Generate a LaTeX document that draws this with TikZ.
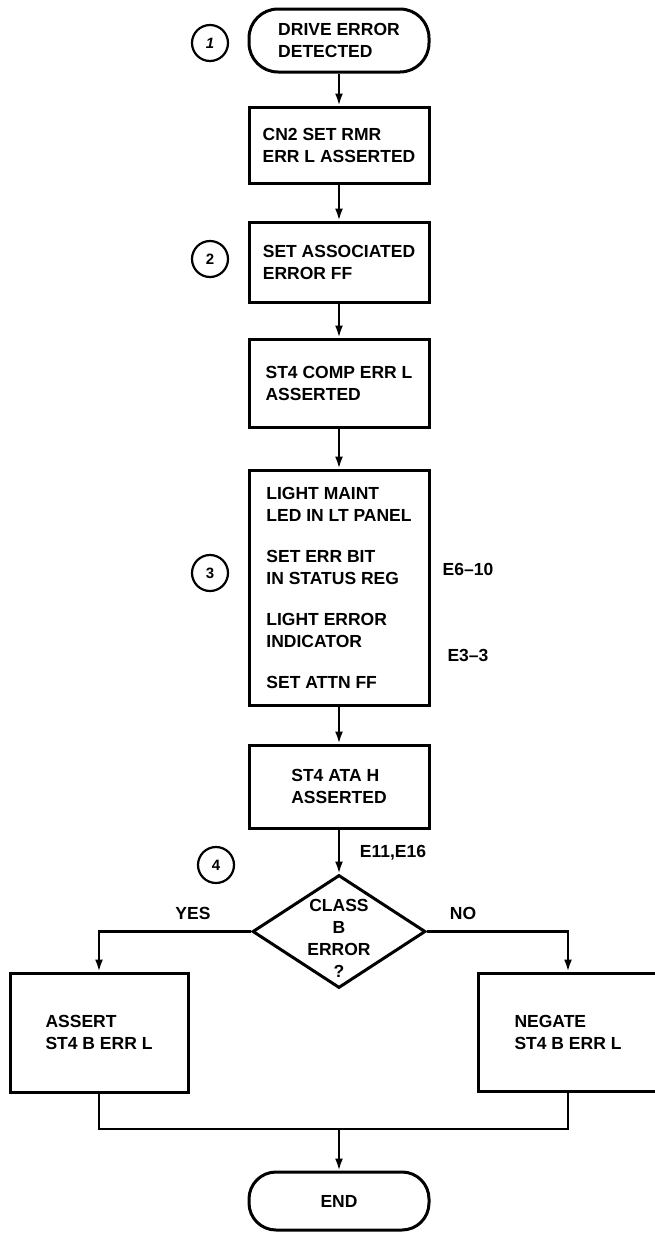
\documentclass[tikz,border=0pt]{standalone}
\usepackage{fontspec}
\setmainfont{Liberation Sans}
\usetikzlibrary{arrows.meta, shapes.geometric}

\begin{document}
\begin{tikzpicture}[
        x=1pt, y=-1pt,
        >={Latex[length=12pt,width=8pt]},
        line width=2.1pt,
        every node/.style={font=\fontsize{17.5}{22}\bfseries},
        stepbox/.style={draw, rectangle, line width=3pt, align=left, minimum width=180pt, inner sep=0pt},
        terminal/.style={draw, rectangle, rounded corners=29pt, line width=3pt, align=left, minimum width=180pt, inner sep=0pt},
        decision/.style={draw, diamond, line width=3pt, minimum width=173pt, minimum height=113pt, inner sep=0pt},
        marker/.style={draw, circle, line width=2.2pt, minimum size=36pt, inner sep=0pt, font=\fontsize{15}{17}\bfseries},
        ref/.style={inner sep=0pt},
    ]
        \useasboundingbox (0,0) rectangle (655,1235);

        % Main column
        \node[terminal, minimum height=63pt] (start) at (339,40.5) {DRIVE ERROR\\DETECTED};
        \node[stepbox, minimum height=76pt] (rmr) at (339,145) {CN2 SET RMR\\ERR L ASSERTED};
        \node[stepbox, minimum height=80pt] (assoc) at (339,262) {SET ASSOCIATED\\ERROR FF};
        \node[stepbox, minimum height=88pt] (comp) at (339,383) {ST4 COMP ERR L\\ASSERTED};
        \node[stepbox, minimum height=235pt] (maint) at (339,587.5)
            {LIGHT MAINT\\LED IN LT PANEL\\[19pt]SET ERR BIT\\IN STATUS REG\\[19pt]LIGHT ERROR\\INDICATOR\\[19pt]SET ATTN FF};
        \node[stepbox, minimum height=83pt] (ata) at (339,786.5) {ST4 ATA H\\ASSERTED};

        % Decision
        \node[decision] (classb) at (339,931.5) {};
        \node[align=center, inner sep=0pt] (classq) at (339,938) {CLASS\\B\\ERROR\\?};

        % Branches
        \node[stepbox, minimum width=178pt, minimum height=119pt] (assert) at (99,1032.5) {ASSERT\\ST4 B ERR L};
        \node[stepbox, minimum height=118pt] (negate) at (568,1032) {NEGATE\\ST4 B ERR L};
        \node[terminal, minimum height=58pt, rounded corners=27pt] (finish) at (339,1201) {END};

        % Step markers
        \node[marker] (m1) at (210,43) {\itshape 1};
        \node[marker] (m2) at (210,259) {2};
        \node[marker] (m3) at (210,573) {3};
        \node[marker] (m4) at (216,865) {4};

        % Labels
        \node[ref] (e610) at (468,569) {E6--10};
        \node[ref] (e33) at (468,655) {E3--3};
        \node[ref] (e1116) at (393,853) {E11,E16};
        \node[ref] (yes) at (193,913) {YES};
        \node[ref] (no) at (463,913) {NO};

        % Flow lines
        \draw[->] (start) -- (rmr);
        \draw[->] (rmr) -- (assoc);
        \draw[->] (assoc) -- (comp);
        \draw[->] (comp) -- (maint);
        \draw[->] (maint) -- (ata);
        \draw[->] (ata) -- (classb.north);
        \draw[->] (classb.west) -| (assert.north);
        \draw[->] (classb.east) -| (negate.north);

        % Join
        \coordinate (merge) at (339,1129);
        \draw (assert.south) |- (merge) -| (negate.south);
        \draw[->] (merge) -- (finish.north);
    \end{tikzpicture}
\end{document}
